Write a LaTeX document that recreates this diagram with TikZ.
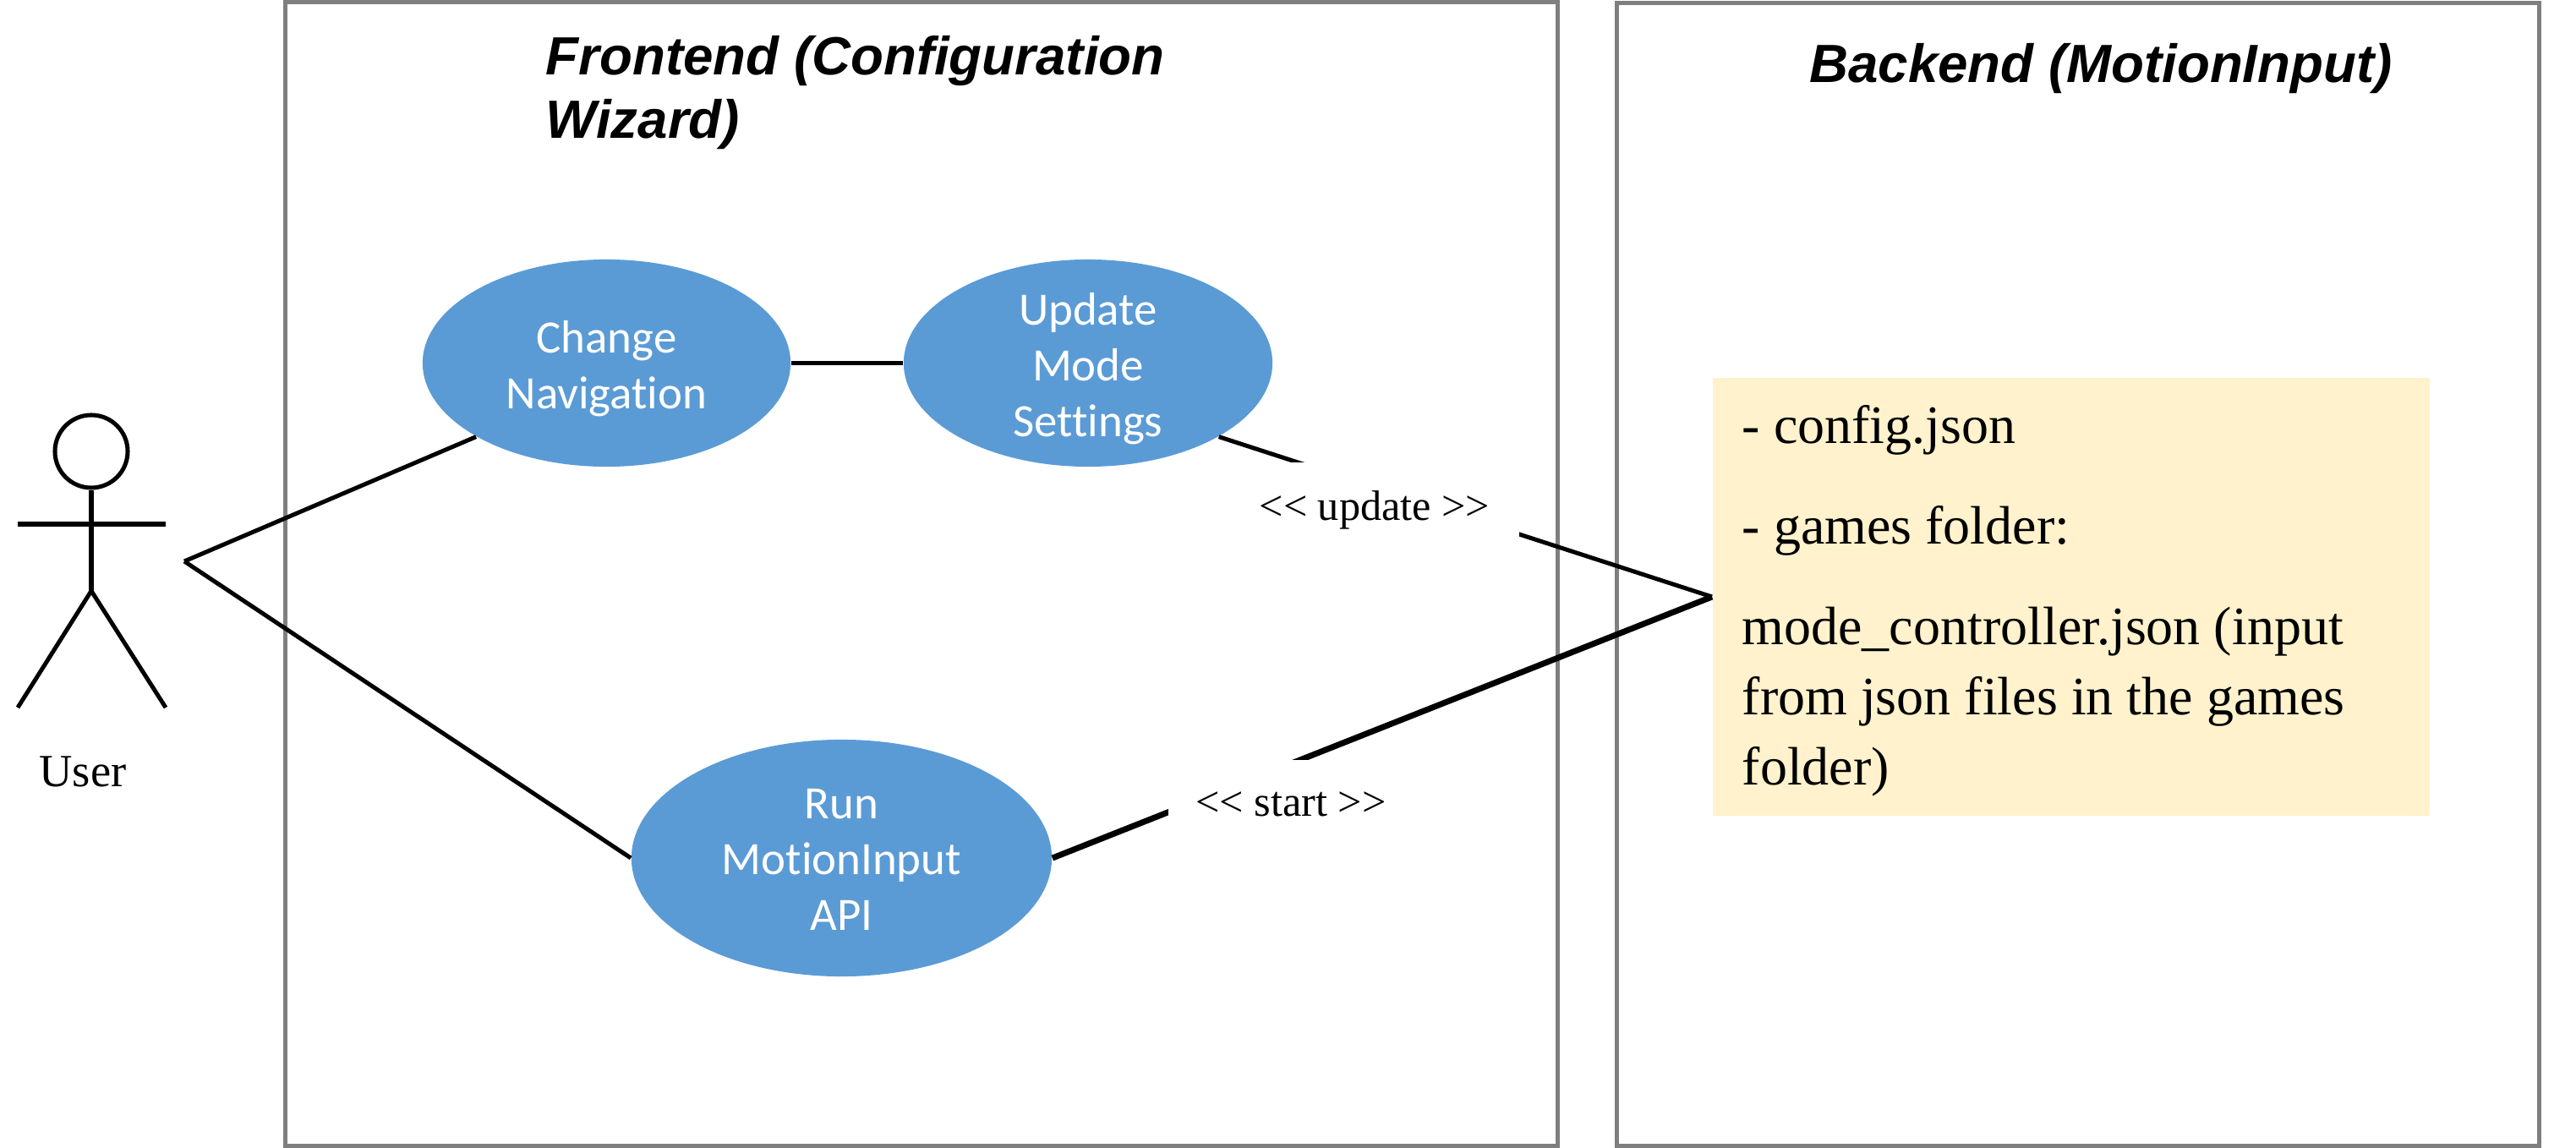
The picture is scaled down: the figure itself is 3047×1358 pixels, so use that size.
\documentclass[tikz,border=0pt]{standalone}
\usepackage{fontspec}
\setmainfont{Liberation Serif}
\newfontfamily\titlefont{Liberation Sans}
\newfontfamily\casefont[Ligatures=NoCommon]{Carlito}
\definecolor{framegray}{RGB}{127,127,127}
\definecolor{caseblue}{RGB}{91,155,213}
\definecolor{fileyellow}{RGB}{255,242,204}
\usetikzlibrary{shapes.geometric}
\tikzset{
  frame/.style={draw=framegray, line width=0.05cm},
  title/.style={font=\titlefont\bfseries\itshape\fontsize{18.1}{21.6}\selectfont, inner sep=0, align=left},
  usecase/.style={ellipse, fill=caseblue, text=white, inner sep=-0.3cm, align=center, font=\casefont\fontsize{15.6}{18.8}\selectfont},
  link/.style={line width=0.05cm, black},
  stereo/.style={fill=white, inner sep=0, font=\fontsize{14.3}{16}\selectfont},
}

\begin{document}
\begin{tikzpicture}[x=0.01cm, y=-0.01cm]
  \useasboundingbox (0,0) rectangle (3047,1358);

  \draw [frame] (337,2.5) rectangle (1842.5,1355.5);
  \draw [frame] (1912.5,4) rectangle (3003,1355.5);
  \node [title, anchor=base west] (fronttitle) at (645,164) {Frontend (Configuration\\Wizard)};
  \node [title, anchor=base] (backtitle) at (2485,98) {Backend (MotionInput)};

  \node [circle, draw, line width=0.05cm, minimum size=0.86cm, inner sep=0] (head) at (108,534) {};
  \coordinate (hip) at (108,699);
  \coordinate (usr) at (218,664);
  \draw [link] (head.south) -- (hip);
  \draw [link, line width=0.06cm] (21,620) -- (196,620);
  \draw [link] (21,837) -- (hip) -- (196,837);
  \node [anchor=base, inner sep=0, font=\fontsize{15.5}{18}\selectfont] (user) at (98,930) {User};

  \node [usecase, minimum width=4.35cm, minimum height=2.45cm] (nav) at (717.5,429.5) {\rule{0pt}{14.7pt}Change\\Navigation};
  \node [usecase, minimum width=4.36cm, minimum height=2.45cm] (upd) at (1287,429.5) {\rule{0pt}{14.7pt}Update\\Mode\\Settings};
  \node [usecase, minimum width=4.97cm, minimum height=2.8cm] (run) at (995.5,1015) {\rule{0pt}{11pt}Run\\MotionInput\\API};

  \node [fill=fileyellow, anchor=west, minimum width=8.48cm, minimum height=5.18cm, inner xsep=0.35cm, inner ysep=0, text width=7.78cm, align=left, font=\fontsize{18.2}{23.6}\selectfont] (files) at (2025,706)
    {\spaceskip=0.25em\rule{0pt}{15.7pt}- config.json\\[10.2pt]- games folder:\\[10.2pt]mode\_controller.json (input\\from json files in the games\\folder)};

  \draw [link] (usr) -- (nav.south west);
  \draw [link] (usr) -- (run.west);
  \draw [link] (nav.east) -- (upd.west);
  \draw [link] (upd.south east) -- (files.west);
  \draw [link, line width=0.07cm] (run.east) -- (files.west);

  \node [stereo, minimum width=3.42cm, minimum height=1.12cm] (updlabel) at (1626,603) {<{}< update >{}>};
  \node [stereo, minimum width=2.9cm, minimum height=1.04cm] (startlabel) at (1527,951) {<{}< start >{}>};
\end{tikzpicture}
\end{document}
